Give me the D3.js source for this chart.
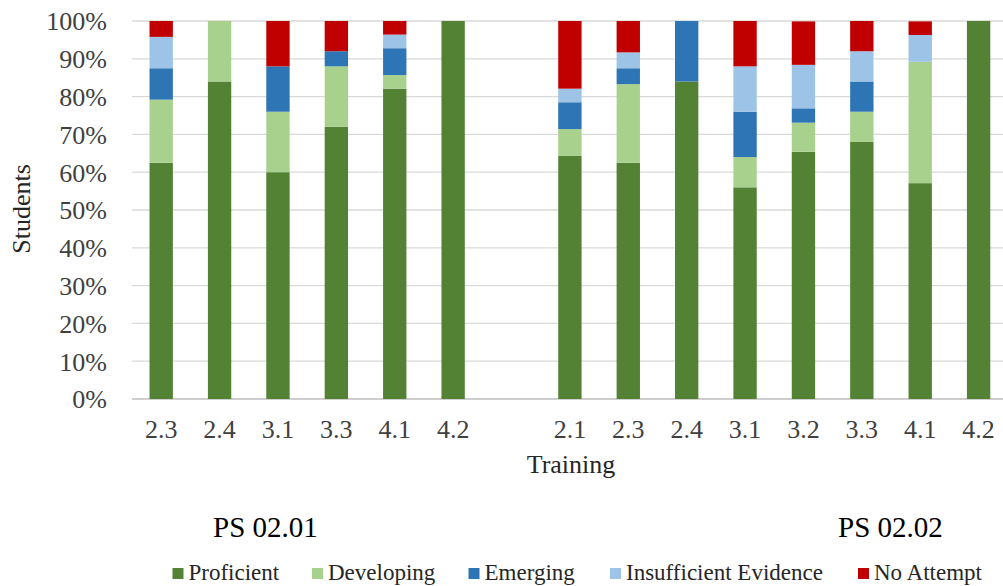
<!DOCTYPE html>
<html>
<head>
<meta charset="utf-8">
<script src="https://cdn.jsdelivr.net/npm/d3@7"></script>
</head>
<body style="margin:0">
<svg id="chart" width="1003" height="586"></svg>
<script>
// ---- Data ----
const groups = ["PS 02.01", "PS 02.02"];
const categories1 = ["2.3", "2.4", "3.1", "3.3", "4.1", "4.2"];
const categories2 = ["2.1", "2.3", "2.4", "3.1", "3.2", "3.3", "4.1", "4.2"];
const seriesNames = ["Proficient", "Developing", "Emerging", "Insufficient Evidence", "No Attempt"];
const seriesColors = ["#548235", "#A9D18E", "#2E75B6", "#9DC3E6", "#C00000"];
// values in %, ordered: group1 bars then group2 bars
const proficient   = [62.5, 84, 60, 72, 82.1, 100,   64.3, 62.5, 84, 56, 65.4, 68, 57.1, 100];
const developing   = [16.7, 16, 16, 16,  3.6,   0,    7.1, 20.8,  0,  8,  7.7,  8, 32.1,   0];
const emerging     = [ 8.3,  0, 12,  4,  7.1,   0,    7.1,  4.2, 16, 12,  3.8,  8,    0,   0];
const insufficient = [ 8.3,  0,  0,  0,  3.6,   0,    3.6,  4.2,  0, 12, 11.5,  8,  7.1,   0];
const noAttempt    = [ 4.2,  0, 12,  8,  3.6,   0,   17.9,  8.3,  0, 12, 11.5,  8,  3.6,   0];
const yTicks = [0, 10, 20, 30, 40, 50, 60, 70, 80, 90, 100];

const FONT = "Liberation Serif";
function serif(sel) {
  sel.attr("font-family", FONT).style("font-family", "'Liberation Serif'", "important");
}

// ---- Build rows ----
const keys = [];
categories1.forEach(c => keys.push({key: groups[0] + "|" + c, label: c}));
const gapKey = "gap";
categories2.forEach(c => keys.push({key: groups[1] + "|" + c, label: c}));
const seriesValues = [proficient, developing, emerging, insufficient, noAttempt];
const rows = keys.map((k, i) => {
  const r = {key: k.key, label: k.label};
  seriesNames.forEach((s, j) => r[s] = seriesValues[j][i]);
  return r;
});
const domain = keys.slice(0, categories1.length).map(d => d.key)
  .concat([gapKey])
  .concat(keys.slice(categories1.length).map(d => d.key));

// ---- Scales ----
const svg = d3.select("#chart");
serif(svg);
const plotLeft = 132, plotRight = 1007.8, plotTop = 21, plotBottom = 399;
const x = d3.scaleBand().domain(domain).range([plotLeft, plotRight])
  .paddingInner(0.6).paddingOuter(0.3);
const y = d3.scaleLinear().domain([0, 100]).range([plotBottom, plotTop]);
const color = d3.scaleOrdinal().domain(seriesNames).range(seriesColors);

// ---- Gridlines ----
svg.append("g").selectAll("line").data(yTicks).join("line")
  .attr("x1", plotLeft).attr("x2", 1003)
  .attr("y1", d => y(d)).attr("y2", d => y(d))
  .attr("stroke", d => d === 0 ? "#BFBFBF" : "#D9D9D9")
  .attr("stroke-width", 1.3);

// ---- Y axis labels ----
const yAxis = d3.axisLeft(y).tickValues(yTicks).tickFormat(d => d + "%").tickSize(0).tickPadding(0);
const yg = svg.append("g").attr("transform", `translate(107,0)`).call(yAxis);
serif(yg);
yg.select(".domain").remove();
yg.selectAll("text").call(serif).attr("font-size", 26).attr("fill", "#404040").attr("dy", "0.34em");

// ---- Bars ----
const stack = d3.stack().keys(seriesNames);
const stacked = stack(rows);
svg.append("g").selectAll("g").data(stacked).join("g")
  .attr("fill", d => color(d.key))
  .selectAll("rect").data(d => d).join("rect")
  .attr("x", d => x(d.data.key))
  .attr("width", x.bandwidth())
  .attr("y", d => y(d[1]))
  .attr("height", d => Math.max(0, y(d[0]) - y(d[1])));

// ---- X axis labels ----
const xAxis = d3.axisBottom(x).tickValues(domain.filter(d => d !== gapKey))
  .tickFormat(d => d.split("|")[1]).tickSize(0).tickPadding(0);
const xg = svg.append("g").attr("transform", `translate(0,438)`).call(xAxis);
serif(xg);
xg.select(".domain").remove();
xg.selectAll("text").call(serif).attr("font-size", 26).attr("fill", "#404040").attr("dy", 0).attr("y", 0);

// ---- Axis titles ----
svg.append("text").attr("x", 571).attr("y", 473).attr("text-anchor", "middle")
  .call(serif).attr("font-size", 26).attr("fill", "#262626").text("Training");
svg.append("text").attr("transform", "translate(30,209) rotate(-90)")
  .attr("text-anchor", "middle").call(serif).attr("font-size", 26).attr("fill", "#262626").text("Students");

// ---- Group labels ----
const groupCenters = [265.5, 890.5];
svg.append("g").selectAll("text").data(groups).join("text")
  .attr("x", (d, i) => groupCenters[i]).attr("y", 537).attr("text-anchor", "middle")
  .call(serif).attr("font-size", 29).attr("fill", "#000").text(d => d);

// ---- Legend ----
const legendX = [172.5, 312, 468.5, 610, 858];
const lg = svg.append("g").selectAll("g").data(seriesNames).join("g")
  .attr("transform", (d, i) => `translate(${legendX[i]},568)`);
lg.append("rect").attr("width", 11).attr("height", 11).attr("fill", d => color(d));
lg.append("text").attr("x", 16).attr("y", 12).call(serif).attr("font-size", 23).attr("fill", "#262626").text(d => d);
</script>
</body>
</html>
